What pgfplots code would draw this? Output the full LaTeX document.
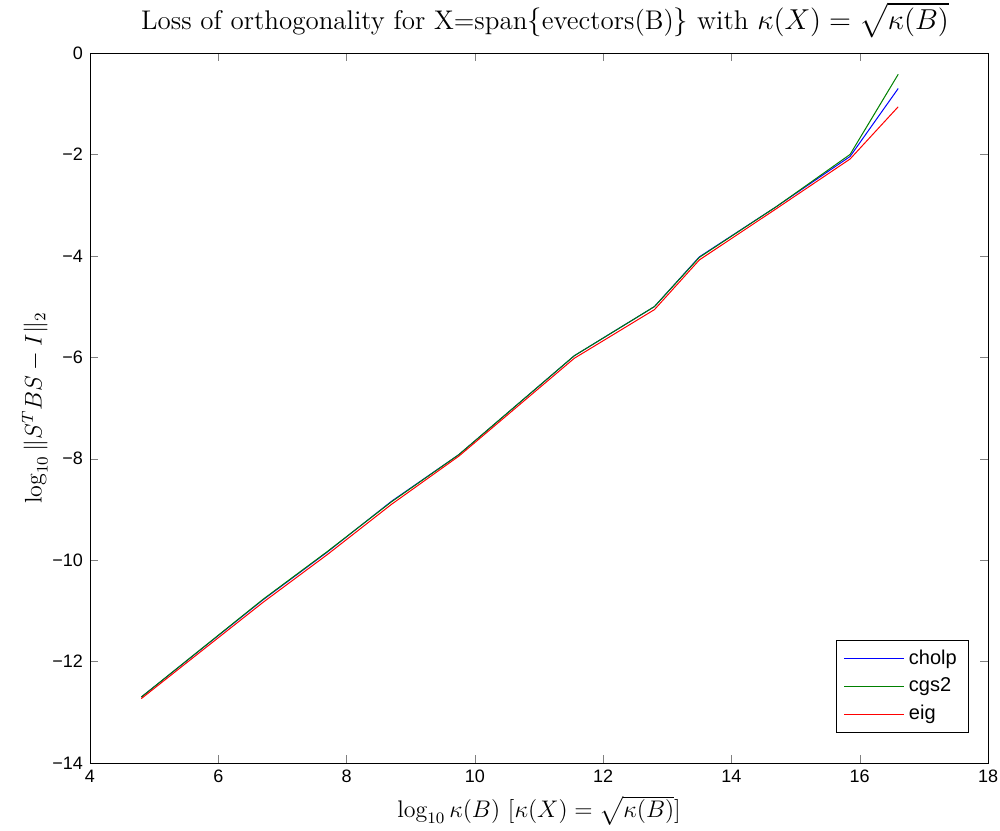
\documentclass[border=0pt]{standalone}
\usepackage{fontspec}
\usepackage{amsmath}
\usepackage{pgfplots}
\pgfplotsset{compat=1.18}
\newfontfamily\arial{Liberation Sans}
\definecolor{mgreen}{rgb}{0,0.5,0}
\begin{document}
\begin{tikzpicture}
\begin{axis}[
  scale only axis,
  width=449pt, height=355pt,
  xmin=4, xmax=18, ymin=-14, ymax=0,
  xtick={4,6,...,18}, ytick={-14,-12,...,0},
  yticklabels={−14,−12,−10,−8,−6,−4,−2,0},
  tick align=inside,
  major tick length=4pt,
  minor tick num=0,
  /pgf/number format/assume math mode=true,
  ticklabel style={font=\arial\fontsize{9}{11}\selectfont},
  title={Loss of orthogonality for X=span$\{$evectors(B)$\}$ with $\kappa(X)=\sqrt{\kappa(B)}$},
  title style={font=\fontsize{13.5}{16}\selectfont, yshift=-2pt, xshift=3pt},
  xlabel={$\log_{10}\kappa(B)$ $[\kappa(X)=\sqrt{\kappa(B)}]$},
  ylabel={$\log_{10}\|S^TBS-I\|_2$},
  label style={font=\fontsize{12}{14}\selectfont},
  xlabel style={yshift=0.5pt},
  ylabel style={yshift=-4.5pt},
  legend style={font=\arial\fontsize{10}{12}\selectfont, at={(0.979,0.042)}, anchor=south east, draw=black, inner xsep=4pt, inner ysep=3pt, row sep=1.2pt,
    /tikz/every even column/.append style={column sep=2pt}},
  legend cell align=left,
  legend image code/.code={\draw[#1,line width=0.5pt] (0pt,0pt) -- (30pt,0pt);},
  every axis plot/.append style={line width=0.5pt},
]
\addplot[blue] coordinates {(4.8,-12.70) (6.7,-10.78) (7.7,-9.84) (8.7,-8.84) (9.75,-7.92) (11.55,-5.97) (12.8,-5.00) (13.5,-4.02) (14.7,-3.03) (15.85,-2.04) (16.6,-0.70)};
\addlegendentry{cholp}
\addplot[mgreen] coordinates {(4.8,-12.70) (6.7,-10.77) (7.7,-9.83) (8.7,-8.85) (9.75,-7.92) (11.55,-5.97) (12.8,-5.00) (13.5,-4.03) (14.7,-3.03) (15.85,-2.00) (16.6,-0.42)};
\addlegendentry{cgs2}
\addplot[red] coordinates {(4.8,-12.73) (6.7,-10.83) (7.7,-9.89) (8.7,-8.90) (9.75,-7.95) (11.55,-6.02) (12.8,-5.06) (13.5,-4.08) (14.7,-3.07) (15.85,-2.09) (16.6,-1.06)};
\addlegendentry{eig}
\end{axis}
\pgfresetboundingbox
\path (-45pt,-33.5pt) rectangle (455pt,381.5pt);
\end{tikzpicture}
\end{document}
